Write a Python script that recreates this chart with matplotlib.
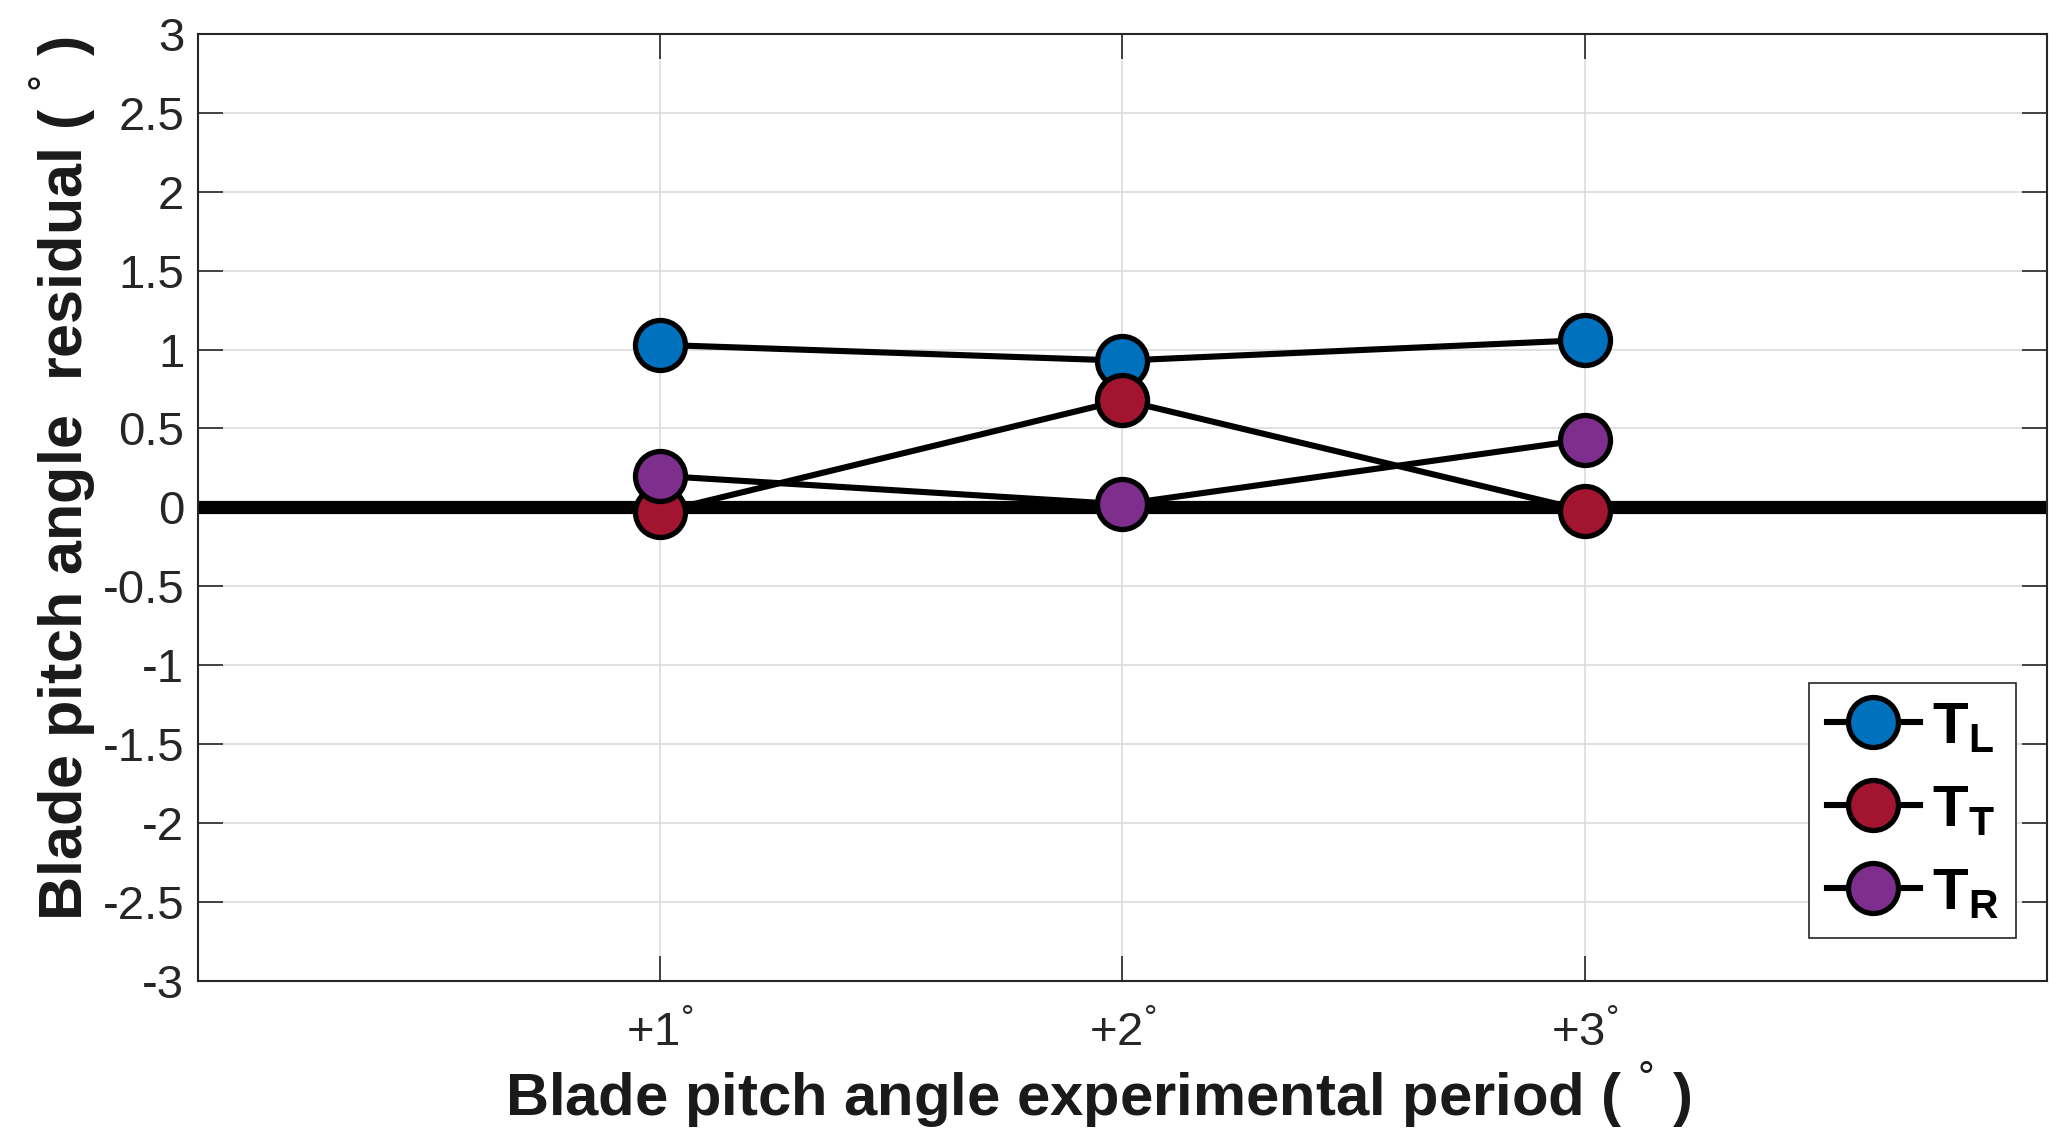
import matplotlib
matplotlib.use('agg')
import matplotlib.pyplot as plt

plt.rcParams['font.family'] = ['Liberation Sans', 'DejaVu Sans']
plt.rcParams['mathtext.fontset'] = 'custom'
plt.rcParams['mathtext.rm'] = 'Liberation Sans'
plt.rcParams['mathtext.bf'] = 'Liberation Sans:bold'

# data
periods = [1, 2, 3]
period_labels = ['+1$^{°}$', '+2$^{°}$', '+3$^{°}$']
t_l = [1.03, 0.93, 1.06]
t_t = [-0.03, 0.68, -0.02]
t_r = [0.20, 0.02, 0.43]
series_names = ['$\\mathbf{T_L}$', '$\\mathbf{T_T}$', '$\\mathbf{T_R}$']
series_colors = ['#0072BD', '#A2142F', '#7E2F8E']
y_ticks = [-3, -2.5, -2, -1.5, -1, -0.5, 0, 0.5, 1, 1.5, 2, 2.5, 3]
y_tick_labels = ['-3', '-2.5', '-2', '-1.5', '-1', '-0.5', '0', '0.5', '1', '1.5', '2', '2.5', '3']

fig = plt.figure(figsize=(20.67, 11.48), dpi=100)
ax = fig.add_axes([0.0958, 0.1455, 0.8945, 0.8250])

ax.axhline(0, color='black', lw=9.5, zorder=2)

for vals, name, col in zip([t_l, t_t, t_r], series_names, series_colors):
    ax.plot(periods, vals, '-o', color='black', lw=4.4,
            marker='o', markersize=36, markerfacecolor=col,
            markeredgecolor='black', markeredgewidth=3.8, label=name, zorder=3)

ax.set_xlim(0, 4)
ax.set_ylim(-3, 3)
ax.set_xticks(periods)
ax.set_xticklabels(period_labels)
ax.set_yticks(y_ticks)
ax.set_yticklabels(y_tick_labels)

ax.grid(True, color='#dcdcdc', lw=1.2, zorder=0)
ax.set_axisbelow(True)
ax.tick_params(direction='in', length=18, width=1.2, colors='#262626',
               labelsize=34, top=True, right=True)
ax.tick_params(axis='x', pad=22)
ax.tick_params(axis='y', pad=10)
for sp in ax.spines.values():
    sp.set_color('#262626')
    sp.set_linewidth(1.5)

ax.set_xlabel('Blade pitch angle experimental period ( $^{°}$ )',
              fontsize=43, fontweight='bold', color='#1a1a1a')
ax.set_ylabel('Blade pitch angle  residual ( $^{°}$ )',
              fontsize=44, fontweight='bold', color='#1a1a1a')
ax.xaxis.set_label_coords(0.487, -0.084)
ax.yaxis.set_label_coords(-0.054, 0.53)

leg = ax.legend(loc='lower right', bbox_to_anchor=(0.9832, 0.045),
                borderaxespad=0, fontsize=42, handlelength=1.6,
                handletextpad=0.2, labelspacing=0.5, borderpad=0.3,
                fancybox=False, framealpha=1)
leg.get_frame().set_edgecolor('#262626')
leg.get_frame().set_linewidth(1.2)

fig.savefig('out.png', dpi=100)
